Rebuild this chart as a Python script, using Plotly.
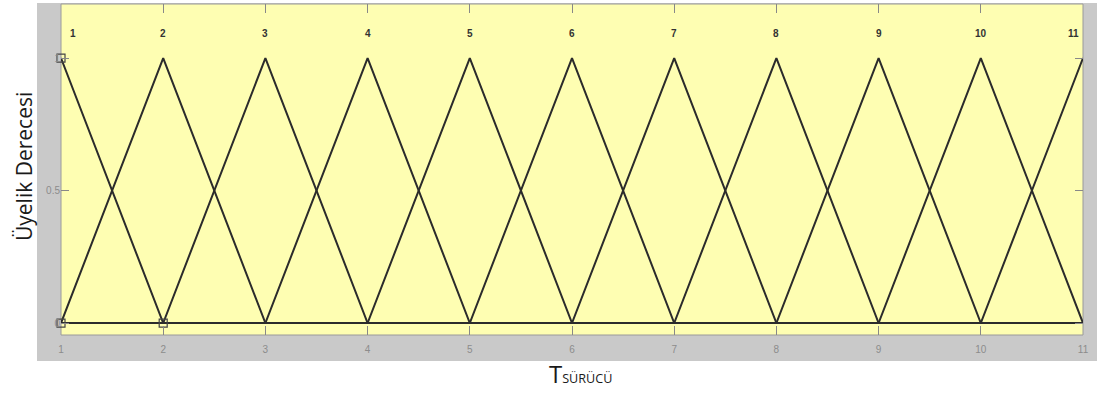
import plotly.graph_objects as go

# Membership functions: 11 triangular sets over the universe 1..11
set_labels = ["1", "2", "3", "4", "5", "6", "7", "8", "9", "10", "11"]
centers = [1, 2, 3, 4, 5, 6, 7, 8, 9, 10, 11]
x_ticks = [1, 2, 3, 4, 5, 6, 7, 8, 9, 10, 11]
y_ticks = [0, 0.5, 1]
y_tick_text = ["0", "0.5", "1"]
# Vertices of the selected (first) set, shown with square handles
handle_x = [1, 1, 2]
handle_y = [1, 0, 0]

x_min, x_max = 1, 11
line_color = "#2b2b2b"

fig = go.Figure()

for c in centers:
    xs, ys = [], []
    left, right = c - 1, c + 1
    # whole-universe trace: zero outside the triangle
    if left >= x_min:
        xs += [x_min, left]
        ys += [0, 0]
    xs.append(c)
    ys.append(1)
    if right <= x_max:
        xs += [right, x_max]
        ys += [0, 0]
    fig.add_trace(go.Scatter(x=xs, y=ys, mode="lines",
                             line=dict(color=line_color, width=2),
                             hoverinfo="skip", showlegend=False))

fig.add_trace(go.Scatter(x=handle_x, y=handle_y, mode="markers",
                         marker=dict(symbol="square-open", size=8,
                                     color="#444444", line=dict(width=1.2)),
                         showlegend=False, cliponaxis=False))

W, H = 1097, 406
L, R, T, B = 61, 14, 4, 71
pw, ph = W - L - R, H - T - B

# set names along the top of the plot area (end labels nudged inward)
for lab, c in zip(set_labels, centers):
    shift = 12 if c == x_min else (-10 if c == x_max else 0)
    fig.add_annotation(x=c, y=(H - B - 33) / ph, xref="x", yref="paper",
                       text="<b>" + lab + "</b>", showarrow=False,
                       xshift=shift, yanchor="middle",
                       font=dict(size=10, color="#333333",
                                 family="Liberation Sans, Arial"))

# axis titles
fig.add_annotation(x=(24 - L) / pw, y=(H - B - 167) / ph, xref="paper",
                   yref="paper", text="Üyelik Derecesi", textangle=-90,
                   showarrow=False, xanchor="center", yanchor="middle",
                   font=dict(size=21, color="#1a1a1a", family="Open Sans, Arial"))
fig.add_annotation(x=(580 - L) / pw, y=(H - B - 392) / ph, xref="paper",
                   yref="paper",
                   text="T<span style='font-size:12.6px'>SÜRÜCÜ</span>",
                   showarrow=False, xanchor="center", yanchor="bottom",
                   font=dict(size=24, color="#1a1a1a", family="Open Sans, Arial"))

shapes = [
    # grey editor panel
    dict(type="rect", xref="paper", yref="paper", layer="below",
         x0=(37 - L) / pw, x1=(W - L) / pw,
         y0=(H - B - 361) / ph, y1=(H - B - 3) / ph,
         fillcolor="#c9c9c9", line=dict(width=0)),
    # yellow axes area
    dict(type="rect", xref="paper", yref="paper", layer="below",
         x0=0, x1=1, y0=0, y1=1,
         fillcolor="#fefeb2", line=dict(color="#9a9a9a", width=1)),
]

fig.update_layout(
    width=W, height=H,
    margin=dict(l=L, r=R, t=T, b=B, autoexpand=False),
    paper_bgcolor="white",
    plot_bgcolor="rgba(0,0,0,0)",
    shapes=shapes,
    font=dict(family="Open Sans, Arial", color="#222222"),
    xaxis=dict(range=[x_min, x_max], tickvals=x_ticks,
               ticktext=[str(v) for v in x_ticks],
               ticks="inside", ticklen=9, tickcolor="#888888",
               mirror="ticks", showline=False, showgrid=False, zeroline=False,
               ticklabelstandoff=7,
               tickfont=dict(size=10, color="#8c8c8c", family="Arial")),
    yaxis=dict(range=[-0.045, 1.204], tickvals=y_ticks, ticktext=y_tick_text,
               ticks="inside", ticklen=8, tickcolor="#888888",
               mirror="ticks", showline=False, showgrid=False, zeroline=False,
               tickfont=dict(size=10, color="#8c8c8c", family="Arial")),
)

fig.write_html("out.html")
